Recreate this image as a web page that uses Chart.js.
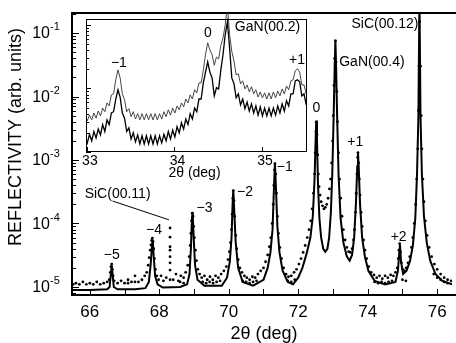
<!DOCTYPE html>
<html>
<head>
<meta charset="utf-8">
<script src="https://cdn.jsdelivr.net/npm/chart.js"></script>
<style>
  html, body { margin: 0; padding: 0; background: #fff; }
  .wrap { position: relative; width: 456px; height: 343px; overflow: hidden; }
  #main { position: absolute; left: 0; top: 0; }
  #inset { position: absolute; left: 70px; top: 13px; }
</style>
</head>
<body>
<div class="wrap">
  <canvas id="main" width="456" height="343"></canvas>
  <canvas id="inset" width="250" height="172"></canvas>
</div>
<script>
// ---- main panel: 2theta (deg) vs reflectivity ----
const xMin = 65.487, xMax = 76.427;
const yMin = 7.48e-6, yMax = 0.2066;
const xTickMarks = [66, 67, 68, 69, 70, 71, 72, 73, 74, 75, 76];
const xTickLabels = [66, 68, 70, 72, 74, 76];
const yDecades = [-5, -4, -3, -2, -1];

// measured reflectivity (dots)
const measured = [
  [65.52,1.1e-5],[65.6,1.15e-5],[65.7,1.1e-5],[65.8,1.2e-5],[65.9,1.1e-5],[66.0,1.15e-5],[66.1,1.1e-5],[66.2,1.2e-5],
  [66.3,1.1e-5],[66.4,1.15e-5],[66.5,1.2e-5],
  [66.56,1.3e-5],[66.59,1.7e-5],[66.61,2.1e-5],[66.63,2.3e-5],[66.65,1.9e-5],[66.67,1.5e-5],[66.7,1.25e-5],
  [66.8,1.15e-5],[66.9,1.25e-5],[67.0,1.15e-5],[67.1,1.3e-5],[67.2,1.2e-5],[67.3,1.5e-5],[67.4,1.2e-5],[67.5,1.3e-5],
  [67.58,1.5e-5],[67.64,1.7e-5],
  [67.68,2.2e-5],[67.71,2.9e-5],[67.74,3.8e-5],[67.76,4.6e-5],[67.78,5.4e-5],[67.8,5.9e-5],[67.82,5.2e-5],[67.84,4e-5],
  [67.86,2.8e-5],[67.89,1.9e-5],[67.93,1.5e-5],[67.98,1.3e-5],
  [68.05,1.5e-5],[68.12,1.25e-5],[68.2,1.4e-5],
  [68.31,1.3e-5],[68.31,1.85e-5],[68.31,2.4e-5],[68.31,3e-5],[68.31,3.8e-5],[68.31,4.3e-5],[68.31,6.1e-5],[68.31,8.5e-5],
  [68.4,1.3e-5],[68.48,1.6e-5],[68.55,1.25e-5],[68.62,1.5e-5],[68.7,1.4e-5],[68.76,1.7e-5],[68.82,2.2e-5],
  [68.86,3e-5],[68.89,4.5e-5],[68.91,7e-5],[68.93,1.1e-4],[68.95,1.45e-4],[68.97,1.3e-4],[68.99,9e-5],[69.01,6e-5],
  [69.04,3.8e-5],[69.07,2.6e-5],[69.11,1.9e-5],[69.16,1.6e-5],
  [69.22,1.4e-5],[69.3,1.5e-5],[69.38,1.3e-5],[69.46,1.45e-5],[69.54,1.3e-5],[69.62,1.5e-5],[69.7,1.4e-5],[69.78,1.6e-5],
  [69.86,1.8e-5],[69.93,2.1e-5],
  [69.98,2.7e-5],[70.02,3.6e-5],[70.05,5e-5],[70.08,8e-5],[70.1,1.4e-4],[70.12,2.5e-4],[70.13,3.3e-4],[70.15,2.3e-4],
  [70.17,1.3e-4],[70.2,6.5e-5],[70.23,4e-5],[70.27,2.7e-5],[70.32,2e-5],[70.38,1.7e-5],
  [70.45,1.5e-5],[70.52,1.4e-5],[70.6,1.3e-5],[70.68,1.45e-5],[70.76,1.4e-5],[70.84,1.6e-5],[70.92,1.8e-5],[71.0,2e-5],
  [71.06,2.5e-5],
  [71.12,3.2e-5],[71.17,4.3e-5],[71.21,6e-5],[71.25,1e-4],[71.28,2e-4],[71.3,4e-4],[71.32,7e-4],[71.33,8.8e-4],
  [71.35,6e-4],[71.37,3e-4],[71.4,1.3e-4],[71.43,7e-5],[71.47,4.2e-5],[71.52,2.8e-5],[71.58,2e-5],[71.65,1.6e-5],
  [71.72,1.45e-5],[71.8,1.5e-5],[71.88,1.7e-5],[71.95,1.9e-5],[72.02,2.3e-5],[72.08,2.8e-5],[72.14,3.5e-5],[72.2,4.5e-5],
  [72.26,6e-5],[72.31,8e-5],[72.36,1.1e-4],[72.4,1.7e-4],[72.44,3e-4],[72.47,6e-4],[72.49,1.3e-3],[72.51,2.8e-3],
  [72.52,3.9e-3],[72.54,2.5e-3],[72.56,1.2e-3],[72.58,6e-4],[72.6,3.8e-4],[72.63,2.8e-4],[72.66,2.2e-4],[72.7,1.9e-4],
  [72.74,1.7e-4],[72.78,1.8e-4],[72.82,2e-4],[72.86,2.5e-4],[72.9,3.5e-4],[72.93,5e-4],[72.96,9e-4],[72.99,2e-3],
  [73.01,5e-3],[73.03,1.5e-2],[73.05,4e-2],[73.07,7.5e-2],[73.09,3.5e-2],[73.11,1.2e-2],[73.13,4e-3],[73.16,1.3e-3],
  [73.19,5e-4],[73.22,2.5e-4],[73.26,1.3e-4],[73.3,8e-5],[73.35,5.5e-5],[73.4,4.2e-5],[73.45,3.6e-5],[73.5,3.5e-5],
  [73.55,4e-5],[73.59,5.5e-5],[73.62,8e-5],[73.65,1.5e-4],[73.67,3e-4],[73.69,6e-4],[73.71,1.1e-3],[73.72,1.3e-3],
  [73.74,9e-4],[73.76,5e-4],[73.78,2.8e-4],[73.81,1.5e-4],[73.84,9e-5],[73.88,5.5e-5],[73.92,3.8e-5],[73.97,2.8e-5],
  [74.03,2.1e-5],[74.1,1.7e-5],
  [74.18,1.55e-5],[74.26,1.4e-5],[74.34,1.5e-5],[74.42,1.35e-5],[74.5,1.5e-5],[74.58,1.4e-5],[74.66,1.55e-5],[74.74,1.5e-5],
  [74.8,1.7e-5],[74.85,2e-5],
  [74.88,2.8e-5],[74.9,3.8e-5],[74.92,4.8e-5],[74.94,3.6e-5],[74.97,2.4e-5],[75.01,1.9e-5],[75.06,1.8e-5],[75.11,2e-5],
  [75.16,2.4e-5],[75.21,3e-5],[75.26,4.2e-5],[75.3,6e-5],[75.34,1e-4],[75.38,2e-4],[75.41,5e-4],[75.44,1.5e-3],
  [75.46,6e-3],[75.48,3e-2],[75.49,0.15],[75.5,0.3],[75.52,3e-2],[75.54,5e-3],[75.56,1.5e-3],[75.59,5e-4],
  [75.62,2.2e-4],[75.66,1.1e-4],[75.71,6.5e-5],[75.77,4.2e-5],[75.84,3e-5],[75.92,2.3e-5],[76.0,1.9e-5],[76.1,1.6e-5],
  [76.2,1.4e-5],[76.3,1.3e-5],[76.4,1.25e-5],
  // count floor rows
  [67.1,1.15e-5],[67.3,1.2e-5],[68.6,1.2e-5],[68.7,1.15e-5],
  [69.25,1.2e-5],[69.35,1.15e-5],[69.45,1.2e-5],[69.55,1.15e-5],[69.65,1.2e-5],[69.75,1.25e-5],
  [70.4,1.25e-5],[70.5,1.2e-5],[70.6,1.15e-5],[70.7,1.2e-5],[70.8,1.25e-5],
  [71.7,1.25e-5],[71.8,1.2e-5],[71.9,1.3e-5],
  [74.2,1.2e-5],[74.3,1.15e-5],[74.4,1.2e-5],[74.5,1.15e-5],[74.6,1.2e-5],[74.7,1.25e-5],
  [75.0,1.3e-5],[75.1,1.25e-5],[75.9,1.6e-5],[76.0,1.4e-5],[76.1,1.3e-5],[76.2,1.2e-5],[76.3,1.15e-5]
];

// simulated reflectivity (solid line)
const simulation = [
  [65.49,9e-6],[66.0,9e-6],[66.5,9.2e-6],[66.57,1e-5],[66.6,1.5e-5],[66.63,2.2e-5],[66.66,1.5e-5],[66.69,1e-5],
  [66.8,9.2e-6],[67.3,9.2e-6],[67.6,9.6e-6],[67.7,1.2e-5],[67.75,2.2e-5],[67.79,4.5e-5],[67.81,5.6e-5],[67.84,3e-5],
  [67.88,1.5e-5],[67.95,1.1e-5],[68.1,9.8e-6],[68.6,1e-5],[68.8,1.1e-5],[68.87,1.6e-5],[68.91,4e-5],[68.94,1.2e-4],
  [68.96,1.5e-4],[68.99,6e-5],[69.03,2.2e-5],[69.1,1.3e-5],[69.3,1.05e-5],[69.8,1.05e-5],[69.95,1.4e-5],[70.03,2.5e-5],
  [70.08,6e-5],[70.11,2e-4],[70.13,3.4e-4],[70.16,1.5e-4],[70.2,5e-5],[70.27,2e-5],[70.4,1.2e-5],[70.7,1.05e-5],
  [71.0,1.3e-5],[71.12,2e-5],[71.2,3.5e-5],[71.26,8e-5],[71.3,3.5e-4],[71.33,9e-4],[71.36,3.5e-4],[71.4,9e-5],
  [71.46,3.5e-5],[71.55,1.8e-5],[71.7,1.2e-5],[71.85,1.1e-5],[72.0,1.4e-5],[72.12,2e-5],[72.25,3.5e-5],[72.35,6e-5],
  [72.42,1.3e-4],[72.47,5e-4],[72.5,2e-3],[72.52,4.2e-3],[72.54,2e-3],[72.57,4e-4],[72.61,1.2e-4],[72.66,6e-5],
  [72.72,4e-5],[72.78,3.6e-5],[72.84,4e-5],[72.89,6e-5],[72.94,1.5e-4],[72.98,6e-4],[73.02,5e-3],[73.05,3e-2],
  [73.07,7.8e-2],[73.09,3e-2],[73.12,5e-3],[73.16,6e-4],[73.22,1.2e-4],[73.3,5e-5],[73.4,3e-5],[73.48,2.6e-5],
  [73.55,3.2e-5],[73.61,6e-5],[73.66,2e-4],[73.7,8e-4],[73.72,1.3e-3],[73.74,8e-4],[73.78,2e-4],[73.84,6e-5],
  [73.92,3e-5],[74.02,1.8e-5],[74.2,1.25e-5],[74.5,1.1e-5],[74.8,1.2e-5],[74.87,1.8e-5],[74.91,3.5e-5],[74.93,4.6e-5],
  [74.96,2.5e-5],[75.02,1.6e-5],[75.12,1.8e-5],[75.22,2.6e-5],[75.3,4.5e-5],[75.37,1.2e-4],[75.42,6e-4],[75.46,5e-3],
  [75.49,0.4],[75.52,5e-3],[75.56,6e-4],[75.62,1.3e-4],[75.7,5e-5],[75.8,2.6e-5],[75.95,1.6e-5],[76.15,1.25e-5],
  [76.43,1.1e-5]
];

// peak labels: [text, x, y, align]
const peakLabels = [
  ['\u22125', 66.63, 3.2e-5, 'center'],
  ['\u22124', 67.85, 7.9e-5, 'center'],
  ['\u22123', 69.30, 1.75e-4, 'center'],
  ['\u22122', 70.47, 3.1e-4, 'center'],
  ['\u22121', 71.61, 7.8e-4, 'center'],
  ['0', 72.52, 6.6e-3, 'center'],
  ['+1', 73.64, 1.92e-3, 'center'],
  ['+2', 74.89, 6.1e-5, 'center'],
  ['GaN(00.4)', 73.18, 3.5e-2, 'left'],
  ['SiC(00.12)', 75.46, 0.139, 'right'],
  ['SiC(00.11)', 66.80, 2.9e-4, 'center']
];
const sicLeader = [[66.655, 2.26e-4], [68.28, 1.14e-4]];

// ---- inset: GaN(00.2) region ----
const insetXMin = 32.99, insetXMax = 35.514;
const insetYMin = 1e-3, insetYMax = 0.123;
const insetTicks = [33, 34, 35];
const insetStart = 32.98, insetStep = 0.025;
const insetUpper = [
  0.0037,0.0031,0.0038,0.0032,0.0041,0.0034,0.0044,0.0037,0.0049,0.0043,
  0.0059,0.0053,0.0079,0.0082,0.0136,0.0195,0.0146,0.0082,0.0066,0.0043,
  0.0048,0.0036,0.0043,0.0033,0.0040,0.0032,0.0040,0.0032,0.0040,0.0032,
  0.0040,0.0032,0.0040,0.0032,0.0040,0.0033,0.0043,0.0036,0.0046,0.0038,
  0.0049,0.0041,0.0053,0.0046,0.0059,0.0051,0.0068,0.0059,0.0079,0.0068,
  0.0095,0.0085,0.0122,0.0122,0.0195,0.034,0.052,0.040,0.034,0.023,
  0.031,0.029,0.047,0.062,0.100,0.2,0.070,0.038,0.027,0.0163,
  0.0169,0.0118,0.0131,0.0098,0.0113,0.0088,0.0106,0.0082,0.0095,0.0073,
  0.0088,0.0071,0.0085,0.0068,0.0085,0.0068,0.0088,0.0071,0.0091,0.0076,
  0.0098,0.0082,0.0109,0.0095,0.0131,0.0136,0.0189,0.0203,0.018,0.0113,
  0.0113,0.0082
];
const insetLower = [
  0.0018,0.00139,0.0019,0.0015,0.0021,0.00166,0.0023,0.00185,0.0027,0.0021,
  0.0032,0.0027,0.0041,0.0043,0.0068,0.0095,0.0073,0.0041,0.0034,0.0021,
  0.0024,0.0016,0.0020,0.00144,0.00185,0.00134,0.0018,0.00134,0.0018,0.00134,
  0.0018,0.00134,0.0018,0.00134,0.0018,0.00139,0.0019,0.0015,0.0021,0.0016,
  0.0022,0.00172,0.0025,0.0020,0.0029,0.0023,0.0033,0.0027,0.0040,0.0033,
  0.0049,0.0043,0.0068,0.0068,0.0122,0.018,0.026,0.018,0.0146,0.0076,
  0.0102,0.0098,0.0195,0.034,0.070,0.111,0.043,0.0146,0.0118,0.0071,
  0.0082,0.0055,0.0068,0.0048,0.0061,0.0044,0.0057,0.0041,0.0053,0.0038,
  0.0051,0.0037,0.0049,0.0037,0.0049,0.0037,0.0049,0.0038,0.0053,0.0041,
  0.0057,0.0044,0.0064,0.0053,0.0082,0.0082,0.0131,0.0136,0.0127,0.0076,
  0.0082,0.0055
];
const insetLabels = [
  ['\u22121', 33.366, 0.025, 'center'],
  ['0', 34.383, 0.075, 'center'],
  ['+1', 35.40, 0.028, 'center'],
  ['GaN(00.2)', 34.69, 0.093, 'left']
];

const FONT = '"Liberation Sans", Arial, sans-serif';
const toPts = arr => arr.map(p => ({ x: p[0], y: p[1] }));

function drawLogTicks(ctx, ys, x, from, to, major, minor) {
  for (let k = from; k <= to; k++) {
    for (let m = 1; m <= 9; m++) {
      const v = m * Math.pow(10, k);
      if (v < ys.min || v > ys.max) continue;
      const py = Math.round(ys.getPixelForValue(v)) + 0.5;
      ctx.beginPath();
      ctx.moveTo(x, py);
      ctx.lineTo(x + (m === 1 ? major : minor), py);
      ctx.stroke();
    }
  }
}

const mainDecor = {
  id: 'mainDecor',
  afterDraw(chart) {
    const ctx = chart.ctx, a = chart.chartArea;
    const xs = chart.scales.x, ys = chart.scales.y;
    ctx.save();
    ctx.strokeStyle = '#000';
    ctx.fillStyle = '#000';
    // frame
    ctx.lineWidth = 2;
    ctx.beginPath();
    ctx.moveTo(chart.width, a.top);
    ctx.lineTo(a.left, a.top);
    ctx.lineTo(a.left, a.bottom);
    ctx.lineTo(chart.width, a.bottom);
    ctx.stroke();
    // ticks
    ctx.lineWidth = 1;
    xTickMarks.forEach(v => {
      const px = Math.round(xs.getPixelForValue(v)) + 0.5;
      ctx.beginPath();
      ctx.moveTo(px, a.bottom);
      ctx.lineTo(px, a.bottom - 6);
      ctx.stroke();
    });
    drawLogTicks(ctx, ys, a.left, -6, -1, 7, 4);
    // x tick labels
    ctx.font = '17px ' + FONT;
    ctx.textAlign = 'center';
    ctx.textBaseline = 'middle';
    xTickLabels.forEach(v => ctx.fillText(String(v), xs.getPixelForValue(v), a.bottom + 17));
    // y tick labels 10^k
    yDecades.forEach(k => {
      const py = ys.getPixelForValue(Math.pow(10, k));
      ctx.font = '16px ' + FONT;
      ctx.textAlign = 'right';
      ctx.fillText('10', 50, py + 1);
      ctx.font = '11px ' + FONT;
      ctx.textAlign = 'left';
      ctx.fillText('-' + Math.abs(k), 50, py - 6);
    });
    // axis titles
    ctx.font = '18px ' + FONT;
    ctx.textAlign = 'center';
    ctx.fillText('2\u03b8 (deg)', (a.left + a.right) / 2 + 2, 334);
    ctx.save();
    ctx.translate(16, 137);
    ctx.rotate(-Math.PI / 2);
    ctx.fillText('REFLECTIVITY (arb. units)', 0, 0);
    ctx.restore();
    // peak labels
    ctx.font = '14px ' + FONT;
    peakLabels.forEach(([t, x, y, al]) => {
      ctx.textAlign = al;
      ctx.fillText(t, xs.getPixelForValue(x), ys.getPixelForValue(y));
    });
    ctx.lineWidth = 1;
    ctx.beginPath();
    ctx.moveTo(xs.getPixelForValue(sicLeader[0][0]), ys.getPixelForValue(sicLeader[0][1]));
    ctx.lineTo(xs.getPixelForValue(sicLeader[1][0]), ys.getPixelForValue(sicLeader[1][1]));
    ctx.stroke();
    ctx.restore();
  }
};

new Chart(document.getElementById('main'), {
  type: 'line',
  data: {
    datasets: [
      {
        label: 'simulation',
        data: toPts(simulation),
        borderColor: '#000',
        borderWidth: 2,
        pointRadius: 0,
        tension: 0
      },
      {
        label: 'measured',
        data: toPts(measured),
        showLine: false,
        pointRadius: 1.4,
        pointBorderWidth: 0,
        pointBackgroundColor: '#000'
      }
    ]
  },
  options: {
    responsive: false,
    animation: false,
    devicePixelRatio: 1,
    layout: { padding: { left: 72, top: 13, right: 0, bottom: 48 } },
    plugins: { legend: { display: false }, tooltip: { enabled: false } },
    scales: {
      x: { type: 'linear', min: xMin, max: xMax, display: false },
      y: { type: 'logarithmic', min: yMin, max: yMax, display: false }
    }
  },
  plugins: [mainDecor]
});

const insetDecor = {
  id: 'insetDecor',
  beforeDatasetsDraw(chart) {
    const ctx = chart.ctx, a = chart.chartArea;
    ctx.save();
    ctx.fillStyle = '#fff';
    ctx.fillRect(a.left, a.top, a.right - a.left, a.bottom - a.top);
    ctx.restore();
  },
  afterDraw(chart) {
    const ctx = chart.ctx, a = chart.chartArea;
    const xs = chart.scales.x, ys = chart.scales.y;
    ctx.save();
    ctx.strokeStyle = '#000';
    ctx.fillStyle = '#000';
    ctx.lineWidth = 1;
    ctx.strokeRect(a.left + 0.5, a.top + 0.5, a.right - a.left - 1, a.bottom - a.top - 1);
    insetTicks.forEach(v => {
      const px = Math.round(xs.getPixelForValue(v)) + 0.5;
      ctx.beginPath();
      ctx.moveTo(px, a.bottom);
      ctx.lineTo(px, a.bottom - 5);
      ctx.stroke();
    });
    drawLogTicks(ctx, ys, a.left, -3, -1, 5, 3);
    ctx.font = '14px ' + FONT;
    ctx.textAlign = 'center';
    ctx.textBaseline = 'middle';
    insetTicks.forEach(v => ctx.fillText(String(v), xs.getPixelForValue(v) + 3, a.bottom + 9));
    ctx.fillText('2\u03b8 (deg)', (a.left + a.right) / 2 - 2, a.bottom + 21);
    insetLabels.forEach(([t, x, y, al]) => {
      ctx.textAlign = al;
      ctx.fillText(t, xs.getPixelForValue(x), ys.getPixelForValue(y));
    });
    ctx.restore();
  }
};

const insetPts = vals => vals.map((v, i) => ({ x: insetStart + i * insetStep, y: v }));

new Chart(document.getElementById('inset'), {
  type: 'line',
  data: {
    datasets: [
      {
        label: 'upper',
        data: insetPts(insetUpper),
        borderColor: '#333',
        borderWidth: 0.9,
        pointRadius: 0,
        tension: 0,
        clip: { left: 0, top: 6, right: 0, bottom: 0 }
      },
      {
        label: 'lower',
        data: insetPts(insetLower),
        borderColor: '#000',
        borderWidth: 1.3,
        pointRadius: 0,
        tension: 0,
        clip: { left: 0, top: 6, right: 0, bottom: 0 }
      }
    ]
  },
  options: {
    responsive: false,
    animation: false,
    devicePixelRatio: 1,
    layout: { padding: { left: 16, top: 6, right: 13, bottom: 33 } },
    plugins: { legend: { display: false }, tooltip: { enabled: false } },
    scales: {
      x: { type: 'linear', min: insetXMin, max: insetXMax, display: false },
      y: { type: 'logarithmic', min: insetYMin, max: insetYMax, display: false }
    }
  },
  plugins: [insetDecor]
});
</script>
</body>
</html>
